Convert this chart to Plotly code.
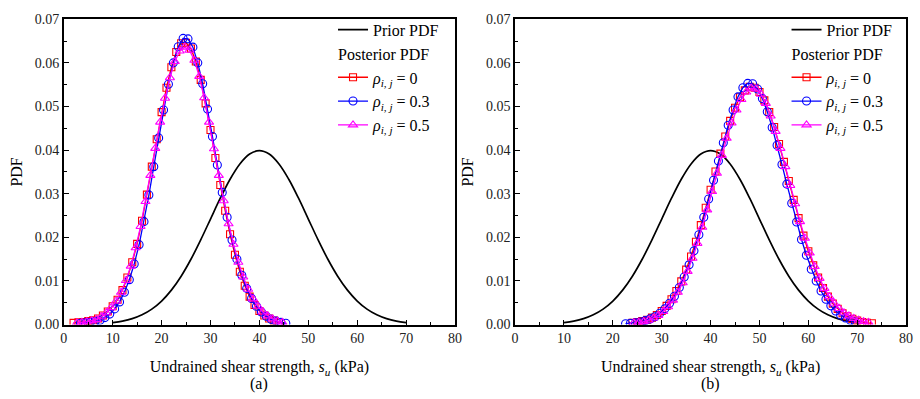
import plotly.graph_objects as go

# ---------------- data ----------------
prior_x = [10, 12, 14, 16, 18, 20, 22, 24, 26, 28, 30, 32, 34, 36, 38, 40,
           42, 44, 46, 48, 50, 52, 54, 56, 58, 60, 62, 64, 66, 68, 70]
prior_y = [0.000443, 0.000792, 0.001358, 0.002239, 0.003547, 0.005399, 0.007895,
           0.011092, 0.014973, 0.019419, 0.024197, 0.028969, 0.033322, 0.036827,
           0.039104, 0.039894, 0.039104, 0.036827, 0.033322, 0.028969, 0.024197,
           0.019419, 0.014973, 0.011092, 0.007895, 0.005399, 0.003547, 0.002239,
           0.001358, 0.000792, 0.000443]

# panel (a)
a_r0_x = list(range(2, 45))
a_r0_y = [0.0004, 0.0005, 0.0006, 0.0008, 0.0010, 0.0014, 0.0021, 0.0030, 0.0042, 0.0057,
          0.0079, 0.0108, 0.0143, 0.0185, 0.0238, 0.0298, 0.0362, 0.0425, 0.0487, 0.0543,
          0.0590, 0.0625, 0.0645, 0.0646, 0.0633, 0.0603, 0.0561, 0.0507, 0.0446, 0.0382,
          0.0320, 0.0261, 0.0207, 0.0160, 0.0121, 0.0089, 0.0064, 0.0045, 0.0031, 0.0021,
          0.0014, 0.0009, 0.0005]
a_r3_x = [3.4, 4.4, 5.4, 6.4, 7.4, 8.4, 9.4, 10.4, 11.4, 12.4, 13.4, 14.4, 15.4, 16.4,
          17.4, 18.4, 19.4, 20.4, 21.4, 22.4, 23.4, 24.4, 25.4, 26.4, 27.4, 28.4, 29.4,
          30.4, 31.4, 32.4, 33.4, 34.4, 35.4, 36.4, 37.4, 38.4, 39.4, 40.4, 41.4, 42.4,
          43.4, 44.4, 45.4]
a_r3_y = [0.0003, 0.0004, 0.0005, 0.0007, 0.0010, 0.0016, 0.0024, 0.0036, 0.0052, 0.0074,
          0.0103, 0.0139, 0.0183, 0.0236, 0.0297, 0.0362, 0.0428, 0.0492, 0.0551, 0.0600,
          0.0637, 0.0656, 0.0655, 0.0636, 0.0600, 0.0552, 0.0494, 0.0431, 0.0366, 0.0303,
          0.0246, 0.0194, 0.0150, 0.0113, 0.0083, 0.0060, 0.0042, 0.0029, 0.0019, 0.0012,
          0.0008, 0.0005, 0.0003]
a_r5_x = [2.7, 3.7, 4.7, 5.7, 6.7, 7.7, 8.7, 9.7, 10.7, 11.7, 12.7, 13.7, 14.7, 15.7,
          16.7, 17.7, 18.7, 19.7, 20.7, 21.7, 22.7, 23.7, 24.7, 25.7, 26.7, 27.7, 28.7,
          29.7, 30.7, 31.7, 32.7, 33.7, 34.7, 35.7, 36.7, 37.7, 38.7, 39.7, 40.7, 41.7,
          42.7, 43.7, 44.7]
a_r5_y = [0.0004, 0.0005, 0.0007, 0.0009, 0.0012, 0.0018, 0.0027, 0.0039, 0.0054, 0.0074,
          0.0101, 0.0134, 0.0176, 0.0225, 0.0282, 0.0342, 0.0404, 0.0464, 0.0519, 0.0566,
          0.0603, 0.0627, 0.0636, 0.0629, 0.0606, 0.0569, 0.0520, 0.0464, 0.0403, 0.0342,
          0.0284, 0.0231, 0.0184, 0.0143, 0.0109, 0.0081, 0.0059, 0.0042, 0.0029, 0.0020,
          0.0013, 0.0008, 0.0005]

# panel (b)
b_r0_x = list(range(24, 74))
b_r0_y = [0.0004, 0.0006, 0.0008, 0.0011, 0.0016, 0.0022, 0.0031, 0.0043, 0.0058, 0.0077,
          0.0099, 0.0126, 0.0156, 0.0190, 0.0228, 0.0268, 0.0309, 0.0351, 0.0392, 0.0431,
          0.0467, 0.0497, 0.0521, 0.0537, 0.0545, 0.0543, 0.0533, 0.0514, 0.0487, 0.0453,
          0.0414, 0.0373, 0.0329, 0.0286, 0.0244, 0.0204, 0.0168, 0.0136, 0.0108, 0.0084,
          0.0064, 0.0048, 0.0036, 0.0026, 0.0019, 0.0013, 0.0009, 0.0006, 0.0004, 0.0003]
b_r3_x = [22.6, 23.6, 24.6, 25.6, 26.6, 27.6, 28.6, 29.6, 30.6, 31.6, 32.6, 33.6, 34.6,
          35.6, 36.6, 37.6, 38.6, 39.6, 40.6, 41.6, 42.6, 43.6, 44.6, 45.6, 46.6, 47.6,
          48.6, 49.6, 50.6, 51.6, 52.6, 53.6, 54.6, 55.6, 56.6, 57.6, 58.6, 59.6, 60.6,
          61.6, 62.6, 63.6, 64.6, 65.6, 66.6, 67.6, 68.6, 69.6]
b_r3_y = [0.0002, 0.0003, 0.0004, 0.0006, 0.0009, 0.0013, 0.0018, 0.0026, 0.0036, 0.0049,
          0.0065, 0.0085, 0.0109, 0.0137, 0.0169, 0.0206, 0.0246, 0.0288, 0.0331, 0.0375,
          0.0417, 0.0457, 0.0492, 0.0522, 0.0543, 0.0553, 0.0552, 0.0540, 0.0518, 0.0488,
          0.0452, 0.0411, 0.0367, 0.0322, 0.0278, 0.0235, 0.0195, 0.0159, 0.0127, 0.0100,
          0.0077, 0.0058, 0.0043, 0.0031, 0.0022, 0.0015, 0.0010, 0.0006]
b_r5_x = [24.3, 25.3, 26.3, 27.3, 28.3, 29.3, 30.3, 31.3, 32.3, 33.3, 34.3, 35.3, 36.3,
          37.3, 38.3, 39.3, 40.3, 41.3, 42.3, 43.3, 44.3, 45.3, 46.3, 47.3, 48.3, 49.3,
          50.3, 51.3, 52.3, 53.3, 54.3, 55.3, 56.3, 57.3, 58.3, 59.3, 60.3, 61.3, 62.3,
          63.3, 64.3, 65.3, 66.3, 67.3, 68.3, 69.3, 70.3, 71.3, 72.3]
b_r5_y = [0.0004, 0.0005, 0.0007, 0.0010, 0.0015, 0.0021, 0.0030, 0.0041, 0.0056, 0.0074,
          0.0096, 0.0122, 0.0152, 0.0186, 0.0223, 0.0263, 0.0305, 0.0347, 0.0388, 0.0427,
          0.0462, 0.0492, 0.0516, 0.0533, 0.0542, 0.0540, 0.0528, 0.0507, 0.0478, 0.0443,
          0.0404, 0.0362, 0.0319, 0.0277, 0.0236, 0.0198, 0.0164, 0.0133, 0.0106, 0.0083,
          0.0064, 0.0049, 0.0037, 0.0027, 0.0020, 0.0014, 0.0010, 0.0007, 0.0005]

series_labels = ["<i>ρ</i><sub><i>i</i>, <i>j</i></sub> = 0",
                 "<i>ρ</i><sub><i>i</i>, <i>j</i></sub> = 0.3",
                 "<i>ρ</i><sub><i>i</i>, <i>j</i></sub> = 0.5"]
series_colors = ["#ff0000", "#0000ff", "#ff00ff"]
series_symbols = ["square-open", "circle-open", "triangle-up-open"]
series_sizes = [7, 8, 8]

FONT = "Liberation Serif"

fig = go.Figure()

panels = [
    ("x", "y", "legend", [(a_r0_x, a_r0_y), (a_r3_x, a_r3_y), (a_r5_x, a_r5_y)]),
    ("x2", "y2", "legend2", [(b_r0_x, b_r0_y), (b_r3_x, b_r3_y), (b_r5_x, b_r5_y)]),
]

for xa, ya, lg, series in panels:
    fig.add_trace(go.Scatter(
        x=prior_x, y=prior_y, mode="lines", name="Prior PDF",
        line=dict(color="black", width=1.7, shape="spline"),
        xaxis=xa, yaxis=ya, legend=lg))
    for i, (sx, sy) in enumerate(series):
        fig.add_trace(go.Scatter(
            x=sx, y=sy, mode="lines+markers", name=series_labels[i],
            line=dict(color=series_colors[i], width=1.3),
            marker=dict(symbol=series_symbols[i], size=series_sizes[i],
                        color=series_colors[i], line=dict(width=1.1, color=series_colors[i])),
            legendgroup="post" + lg,
            legendgrouptitle=dict(text="Posterior PDF", font=dict(family=FONT, size=16, color="black")) if i == 0 else None,
            xaxis=xa, yaxis=ya, legend=lg))

axis_common = dict(
    showgrid=False, zeroline=False, showline=True, linecolor="black", linewidth=1.6,
    mirror=True, ticks="inside", ticklen=5, tickwidth=1.4, tickcolor="black",
    tickfont=dict(family=FONT, size=14, color="#222"),
)

xcommon = dict(axis_common, range=[0, 80], dtick=10, tick0=0,
               minor=dict(dtick=5, ticks="inside", ticklen=3, tickwidth=1.2, tickcolor="black"),
               title=dict(text="Undrained shear strength, <i>s</i><sub><i>u</i></sub> (kPa)",
                          font=dict(family=FONT, size=16, color="black"), standoff=16))
ycommon = dict(axis_common, range=[0, 0.07], dtick=0.01, tick0=0, tickformat=".2f",
               minor=dict(dtick=0.005, ticks="inside", ticklen=3, tickwidth=1.2, tickcolor="black"),
               title=dict(text="PDF", font=dict(family=FONT, size=16, color="black"), standoff=8))

y_dom = [1 - 330 / 399, 1 - 12.7 / 399]

fig.update_layout(
    width=920, height=399, margin=dict(l=0, r=0, t=0, b=0),
    paper_bgcolor="white", plot_bgcolor="white",
    font=dict(family=FONT, color="black"),
    xaxis=dict(xcommon, domain=[60.5 / 920, 456.5 / 920], anchor="y"),
    yaxis=dict(ycommon, domain=y_dom, anchor="x"),
    xaxis2=dict(xcommon, domain=[517.3 / 920, 913 / 920], anchor="y2"),
    yaxis2=dict(ycommon, domain=y_dom, anchor="x2"),
    legend=dict(x=333 / 920, y=1 - 6 / 399, xanchor="left", yanchor="top",
                bgcolor="rgba(0,0,0,0)", font=dict(family=FONT, size=16, color="black"),
                tracegroupgap=0, itemwidth=30),
    legend2=dict(x=792 / 920, y=1 - 6 / 399, xanchor="left", yanchor="top",
                 bgcolor="rgba(0,0,0,0)", font=dict(family=FONT, size=16, color="black"),
                 tracegroupgap=0, itemwidth=30),
    showlegend=True,
    annotations=[
        dict(text="(a)", x=0.5, xref="x domain", y=1 - 392 / 399, yref="paper",
             yanchor="middle", showarrow=False, font=dict(family=FONT, size=16, color="black")),
        dict(text="(b)", x=0.5, xref="x2 domain", y=1 - 392 / 399, yref="paper",
             yanchor="middle", showarrow=False, font=dict(family=FONT, size=16, color="black")),
    ],
)

fig.write_html("out.html")
